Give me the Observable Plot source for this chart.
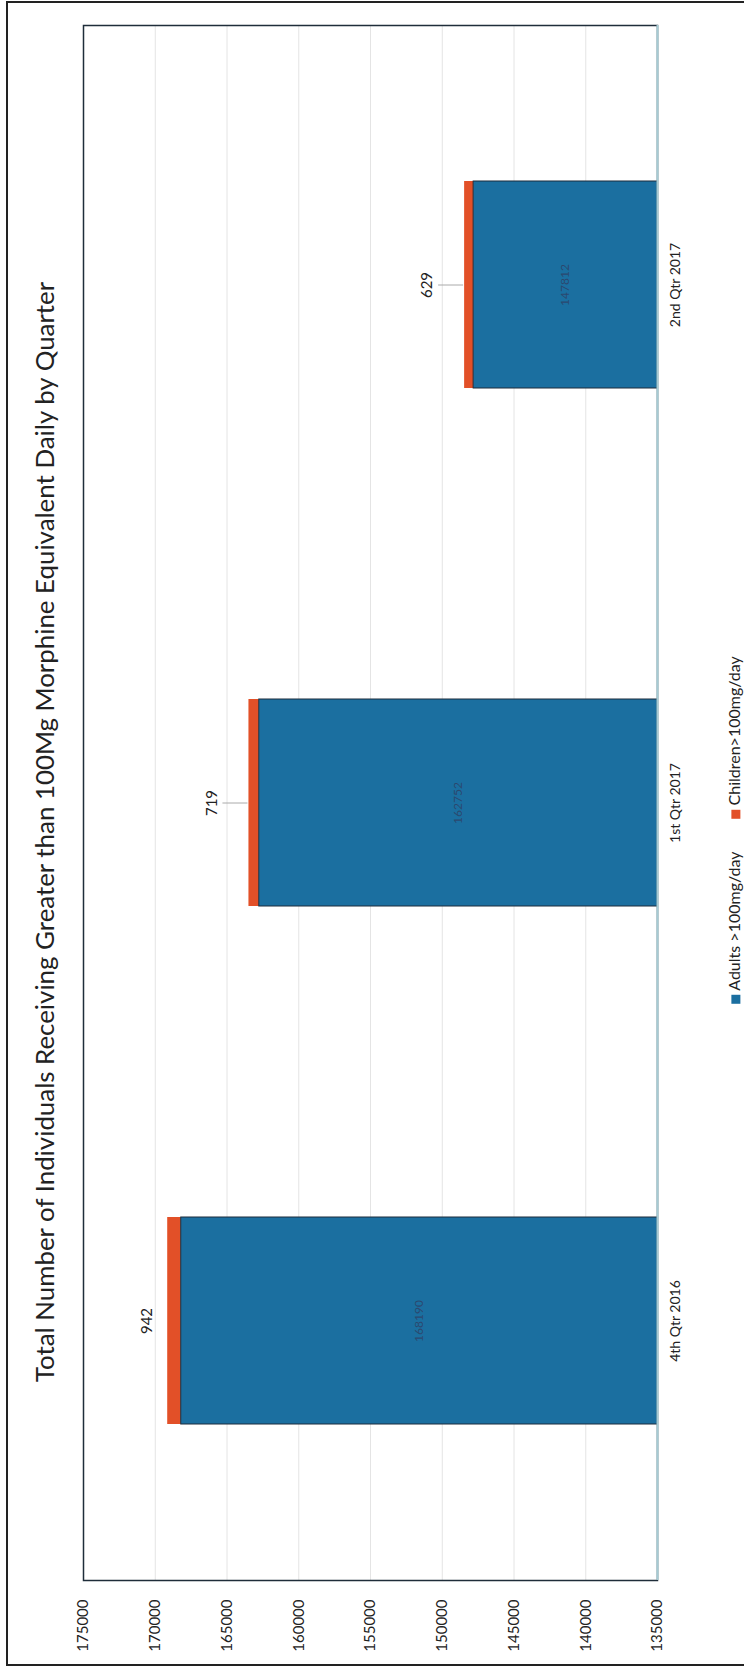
<!DOCTYPE html>
<html><head><meta charset="utf-8">
<script src="https://cdn.jsdelivr.net/npm/d3@7"></script>
<script src="https://cdn.jsdelivr.net/npm/@observablehq/plot@0.6"></script>
<style>
html,body{margin:0;padding:0;background:#fff;}
#wrap{position:relative;width:744px;height:1667px;overflow:hidden;font-family:Lato,"Open Sans",sans-serif;}
#chart{position:absolute;left:0;top:0;}
#border{position:absolute;left:6px;top:1px;width:770px;height:1661px;border:2.5px solid #222;pointer-events:none;}
#title{position:absolute;left:45px;top:832px;transform:translate(-50%,-50%) rotate(-90deg);white-space:nowrap;font-size:24px;color:#222;line-height:1.2;}
#legend{position:absolute;left:734px;top:830px;transform:translate(-50%,-50%) rotate(-90deg);display:flex;gap:33px;white-space:nowrap;font-size:14px;color:#222;align-items:center;line-height:1.2;}
#legend .sw{display:inline-block;width:9px;height:9px;margin-right:4px;vertical-align:0px;}
</style></head>
<body><div id="wrap"><div id="chart"></div><div id="title"></div><div id="legend"></div><div id="border"></div></div>
<script>
const title = "Total Number of Individuals Receiving Greater than 100Mg Morphine Equivalent Daily by Quarter";
const quarters = ["4th Qtr 2016", "1st Qtr 2017", "2nd Qtr 2017"];
const adults = [168190, 162752, 147812];
const children = [942, 719, 629];
const seriesNames = ["Adults >100mg/day", "Children>100mg/day"];
const seriesColors = ["#1b6fa0", "#e25028"];
const xTicks = [135000, 140000, 145000, 150000, 155000, 160000, 165000, 170000, 175000];

const rows = quarters.flatMap((q, i) => [
  {quarter: q, series: seriesNames[0], value: adults[i]},
  {quarter: q, series: seriesNames[1], value: children[i]}
]);
const totals = quarters.map((q, i) => ({quarter: q, adult: adults[i], child: children[i], total: adults[i] + children[i]}));
const xMin = xTicks[0];

const chart = Plot.plot({
  width: 744,
  height: 1667,
  marginLeft: 83,
  marginRight: 87,
  marginTop: 25,
  marginBottom: 87,
  style: {fontFamily: "Lato, 'Open Sans', sans-serif", color: "#222", background: "transparent", overflow: "visible"},
  x: {domain: [xTicks[0], xTicks[xTicks.length - 1]], reverse: true},
  y: {domain: [...quarters].reverse(), paddingInner: 0.6, paddingOuter: 0.3},
  color: {domain: seriesNames, range: seriesColors},
  marks: [
    Plot.ruleX(xTicks, {stroke: "#e4e4e4", strokeWidth: 1}),
    Plot.barX(rows, Plot.stackX({x: "value", y: "quarter", fill: "series", clip: true})),
    Plot.barX(totals, {x1: () => 0, x2: "adult", y: "quarter", fill: "none", stroke: "#1c2c3c", strokeWidth: 1, clip: true}),
    Plot.text(totals, {x: d => (xMin + d.adult) / 2, y: "quarter", text: d => String(d.adult), rotate: -90, fontSize: 12, fill: "#2e4166", fillOpacity: 0.85}),
    Plot.text(totals.slice(0, 1), {x: "total", y: "quarter", text: d => String(d.child), rotate: -90, dx: -21, fontSize: 15, fill: "#222"}),
    Plot.text(totals.slice(1), {x: "total", y: "quarter", text: d => String(d.child), rotate: -90, dx: -37, fontSize: 15, fill: "#222"}),
    Plot.ruleY(totals.slice(1), {y: "quarter", x1: "total", x2: "total", insetLeft: -26, insetRight: 1, stroke: "#aaaaaa", strokeWidth: 1}),
    Plot.frame({stroke: "#1f2d3a", strokeWidth: 1.5}),
    Plot.ruleX([xMin], {stroke: "#a6cbd4", strokeWidth: 2}),
    Plot.axisX({ticks: xTicks, tickFormat: d => String(d), tickRotate: -90, tickSize: 0, tickPadding: 19, fontSize: 15, label: null}),
    Plot.axisY({anchor: "right", tickRotate: -90, tickSize: 0, tickPadding: 22, fontSize: 14, label: null})
  ]
});
document.getElementById("chart").appendChild(chart);

// Title: rotated, sized to span the reference length
const t = document.getElementById("title");
t.textContent = title;
const tw = t.offsetWidth;
if (tw > 0) t.style.fontSize = (24 * 1100 / tw).toFixed(2) + "px";

// Legend
const lg = document.getElementById("legend");
lg.innerHTML = seriesNames.map((s, i) =>
  `<span><span class="sw" style="background:${seriesColors[i]}"></span><span class="lt">${s}</span></span>`).join("");
const lt = lg.querySelectorAll(".lt")[1];
const lw = lt.offsetWidth;
if (lw > 0) lg.style.fontSize = (14 * 150 / lw).toFixed(2) + "px";
</script>
</body></html>
